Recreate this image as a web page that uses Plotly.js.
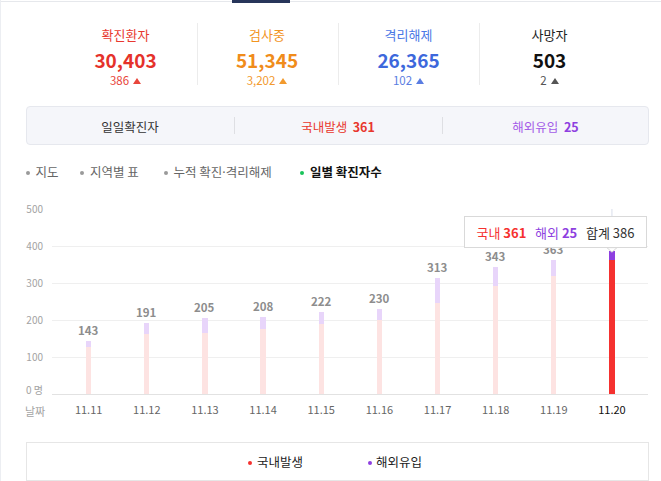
<!DOCTYPE html>
<html>
<head>
<meta charset="utf-8">
<script src="https://cdn.plot.ly/plotly-3.0.1.min.js"></script>
<style>
  html, body { margin:0; padding:0; background:#fff; }
  #wrap { position:relative; width:661px; height:481px; overflow:hidden; font-family:'Noto Sans CJK KR','Noto Sans',sans-serif; }
  #chart { position:absolute; left:0; top:0; width:661px; height:481px; }
  .abs { position:absolute; white-space:nowrap; }
  .ndot { font-family:'Noto Sans','DejaVu Sans',sans-serif; }
</style>
</head>
<body>
<div id="wrap">
  <div id="chart"></div>
</div>
<script>
// ---------------- data ----------------
const statLabels = ['확진환자', '검사중', '격리해제', '사망자'];
const statValues = ['30,403', '51,345', '26,365', '503'];
const statDeltas = ['386', '3,202', '102', '2'];
const panelTitle = '일일확진자';
const panelLabels = ['국내발생', '해외유입'];
const panelValues = [361, 25];
const tabLabels = ['지도', '지역별 표', '누적 확진·격리해제', '일별 확진자수'];
const dates = ['11.11', '11.12', '11.13', '11.14', '11.15', '11.16', '11.17', '11.18', '11.19', '11.20'];
const domestic = [128, 162, 166, 176, 190, 200, 245, 293, 320, 361];
const overseas = [15, 29, 39, 32, 32, 30, 68, 50, 43, 25];
const yTicks = [100, 200, 300, 400, 500];
const yZeroLabel = '0 명';
const xAxisLabel = '날짜';
const legendLabels = ['국내발생', '해외유입'];
const tipLabels = ['국내', '해외', '합계'];

// ---------------- styles ----------------
const RED = '#f5312f', PURPLE = '#8e3fe0';
const statColors = ['#e5322b', '#f08c1b', '#3d68dc', '#111111'];
const statLabelColors = ['#e8392f', '#f2951f', '#4b78e6', '#222222'];
const statDeltaColors = ['#e8463c', '#f29a2e', '#5a7de2', '#555555'];
const statCenters = [125.5, 267, 408.5, 549.5];

const wrap = document.getElementById('wrap');
function el(html, css) {
  const d = document.createElement('div');
  d.className = 'abs';
  d.innerHTML = html;
  Object.assign(d.style, css);
  wrap.appendChild(d);
  return d;
}
function centered(html, cx, cy, fs, css) {
  return el(html, Object.assign({left:(cx-100)+'px', width:'200px', textAlign:'center',
    top:(cy - fs/2)+'px', lineHeight:fs+'px', fontSize:fs+'px', height:fs+'px'}, css||{}));
}
function lefted(html, x, cy, fs, css) {
  return el(html, Object.assign({left:x+'px', top:(cy - fs/2)+'px', lineHeight:fs+'px', fontSize:fs+'px', height:fs+'px'}, css||{}));
}
function box(x, y, w, h, css) {
  const d = document.createElement('div');
  d.style.position = 'absolute';
  Object.assign(d.style, {left:x+'px', top:y+'px', width:w+'px', height:h+'px', boxSizing:'border-box'}, css||{});
  wrap.appendChild(d);
  return d;
}

// top bar lines
box(0, 1, 661, 1, {background:'#e6e8ec'});
box(232, 0, 58, 3, {background:'#27355a'});
box(0, 0, 1, 481, {background:'#eceef2'});

// stats
statLabels.forEach((lab, i) => {
  const cx = statCenters[i];
  centered(lab, cx, 34, 13, {color:statLabelColors[i]});
  centered(statValues[i], cx, 59.5, 19, {color:statColors[i], fontWeight:'bold'});
  centered(statDeltas[i] + '<span style="display:inline-block;width:0;height:0;margin-left:4px;vertical-align:1px;border-left:4px solid transparent;border-right:4px solid transparent;border-bottom:6px solid ' + statDeltaColors[i] + ';"></span>',
    cx, 80.5, 11.5, {color:statDeltaColors[i]});
});
[196.5, 337.5, 478.5].forEach(x => box(x, 23, 1, 62, {background:'#ececec'}));

// panel
box(26, 106, 623, 39, {background:'#f5f6fa', border:'1px solid #e6e8ee', borderRadius:'4px'});
[234, 442].forEach(x => box(x, 117, 1, 17, {background:'#dedfe3'}));
centered(panelTitle, 130, 127, 12.5, {color:'#333'});
centered(panelLabels[0] + '&nbsp;&nbsp;<b>' + panelValues[0] + '</b>', 338, 127, 12.5, {color:'#e8362d'});
centered(panelLabels[1] + '&nbsp;&nbsp;<b style="color:#8e3fe0">' + panelValues[1] + '</b>', 545.5, 127, 12.5, {color:'#a45be8'});

// tabs
const tabDotX = [27.5, 82, 166, 302];
const tabTextX = [35.5, 90, 173.5, 310];
tabLabels.forEach((t, i) => {
  const active = i === tabLabels.length - 1;
  box(tabDotX[i] - 2, 172.5 - 2, 4, 4, {background: active ? '#19c35a' : '#9a9a9a', borderRadius:'50%'});
  lefted(t.replace('·', '<span class="ndot">·</span>'), tabTextX[i], 172.5, 12.5,
    {color: active ? '#111' : '#666', fontWeight: active ? 'bold' : 'normal'});
});

// legend box
box(26, 441.5, 623, 39.5, {border:'1px solid #e6e6e6'});
const legDotX = [250, 370];
const legTextX = [257, 376];
const legColors = [RED, PURPLE];
legendLabels.forEach((t, i) => {
  box(legDotX[i] - 2, 462.5 - 2, 4, 4, {background:legColors[i], borderRadius:'50%'});
  lefted(t, legTextX[i], 462.5, 12.5, {color:'#222'});
});

// ---------------- chart ----------------
const totals = domestic.map((d, i) => d + overseas[i]);
const last = dates.length - 1;
const idx = dates.map((_, i) => i);
const domColors = dates.map((_, i) => i === last ? RED : '#fde3e2');
const ovColors = dates.map((_, i) => i === last ? PURPLE : '#e8d5fa');
const barW = 0.09;

const traces = [
  {type:'bar', x:idx, y:domestic, width:barW, marker:{color:domColors, line:{width:0}}, hoverinfo:'skip', showlegend:false},
  {type:'bar', x:idx, y:overseas, width:barW, marker:{color:ovColors, line:{width:0}}, hoverinfo:'skip', showlegend:false}
];

// value labels (the last one sits under the tooltip in the reference, so it is not drawn)
const annotations = idx.filter(i => i !== last).map(i => ({
  x:i, y:totals[i], xref:'x', yref:'y', text:String(totals[i]), showarrow:false,
  yanchor:'bottom', yshift:1, font:{family:'Noto Sans CJK KR', size:11.5, color:'#8d8d8d', weight:'bold'}
}));
annotations.push({
  x:0, y:0, xref:'paper', yref:'y', text:yZeroLabel, showarrow:false, xanchor:'right', xshift:-7, yshift:5,
  font:{family:'Noto Sans CJK KR', size:10, color:'#a3a3a3'}
});
annotations.push({
  x:0, y:0, xref:'paper', yref:'paper', text:xAxisLabel, showarrow:false, xanchor:'center', yanchor:'middle', xshift:-17, yshift:-16.5,
  font:{family:'Noto Sans CJK KR', size:11, color:'#a3a3a3'}
});
// tooltip
const S = '\u00a0\u00a0\u00a0';
annotations.push({
  x:last, y:totals[last], xref:'x', yref:'y', showarrow:false,
  xanchor:'right', yanchor:'bottom', xshift:35, yshift:3,
  width:181, height:30, borderpad:0, borderwidth:1, bordercolor:'#d9d9d9', bgcolor:'#ffffff',
  text:'<span style="color:' + RED + '">' + tipLabels[0] + ' <b>' + domestic[last] + '</b></span>' + S +
       '<span style="color:' + PURPLE + '">' + tipLabels[1] + ' <b>' + overseas[last] + '</b></span>' + S +
       '<span style="color:#333">' + tipLabels[2] + ' ' + totals[last] + '</span>',
  font:{family:'Noto Sans CJK KR', size:13, color:'#333'}
});

const layout = {
  width:661, height:481,
  margin:{l:52, r:13, t:209, b:87},
  paper_bgcolor:'rgba(0,0,0,0)', plot_bgcolor:'rgba(0,0,0,0)',
  barmode:'stack', showlegend:false, hovermode:false,
  font:{family:'Noto Sans CJK KR', color:'#666'},
  xaxis:{type:'linear', range:[-0.63, 9.62], showgrid:false, zeroline:false,
    showline:true, linecolor:'#e2e2e2', linewidth:1, ticks:'', fixedrange:true,
    tickmode:'array', tickvals:idx,
    ticktext:dates.map((d, i) => i === last ? '<span style="color:#111">' + d + '</span>' : d),
    tickfont:{size:11, color:'#666'}, ticklabelstandoff:6},
  yaxis:{range:[0, 500], tickmode:'array', tickvals:yTicks, ticktext:yTicks.map(String), showgrid:true, gridcolor:'#efefef',
    zeroline:false, showline:false, ticks:'', tickfont:{size:10, color:'#a3a3a3'}, ticklabelstandoff:8, fixedrange:true},
  shapes:[
    {type:'line', xref:'x', yref:'y', x0:last, x1:last, y0:totals[last], y1:500,
     line:{color:'#d8ddea', width:1}, layer:'below'},
    // tooltip pointer notch
    {type:'path', xref:'x', yref:'y', xsizemode:'pixel', ysizemode:'pixel', xanchor:last, yanchor:totals[last],
     path:'M -5 3.5 L 0 -1 L 5 3.5 Z', fillcolor:'#ffffff', line:{color:'#d9d9d9', width:1}, layer:'above'}
  ],
  annotations:annotations
};

Plotly.newPlot('chart', traces, layout, {displayModeBar:false, staticPlot:true});
</script>
</body>
</html>
